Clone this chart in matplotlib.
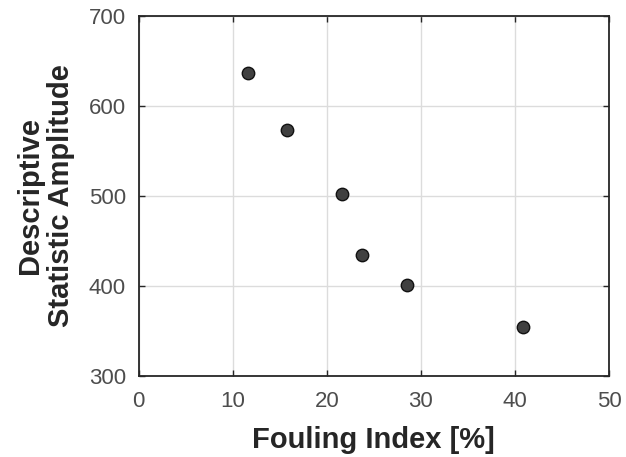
import matplotlib
matplotlib.use("Agg")
import matplotlib.pyplot as plt

# Fouling index vs. descriptive statistic amplitude
fouling_index = [11.66, 15.8, 21.58, 23.77, 28.52, 40.88]
amplitude = [635.8, 572.6, 501.9, 434.0, 401.5, 354.6]

x_ticks = [0, 10, 20, 30, 40, 50]
y_ticks = [300, 400, 500, 600, 700]

plt.rcParams['font.family'] = ['Liberation Sans', 'DejaVu Sans']

fig = plt.figure(figsize=(6.26, 4.57), dpi=100)
ax = fig.add_axes([138.6 / 626, 1 - 376 / 457, (609 - 138.6) / 626, (376 - 15.5) / 457])

ax.scatter(fouling_index, amplitude, s=80, facecolor='#404040', edgecolor='#111111',
           linewidth=1.0, zorder=3)

ax.set_xlim(0, 50)
ax.set_ylim(300, 700)
ax.set_xticks(x_ticks)
ax.set_yticks(y_ticks)
ax.grid(True, color='#dcdcdc', linewidth=1.0)
ax.set_axisbelow(True)

for side in ax.spines.values():
    side.set_color('#262626')
    side.set_linewidth(1.3)

ax.tick_params(direction='in', length=4, width=1.0, color='#262626',
               top=True, right=True, labelsize=16, labelcolor='#4d4d4d')
ax.tick_params(axis='x', pad=11)
ax.tick_params(axis='y', pad=9)

ax.set_xlabel('Fouling Index [%]', fontsize=21, fontweight='bold', color='#262626', labelpad=10)
ax.set_ylabel('Descriptive\nStatistic Amplitude', fontsize=21, fontweight='bold',
              color='#262626', labelpad=10, linespacing=1.15)

fig.savefig('out.png', dpi=100)
